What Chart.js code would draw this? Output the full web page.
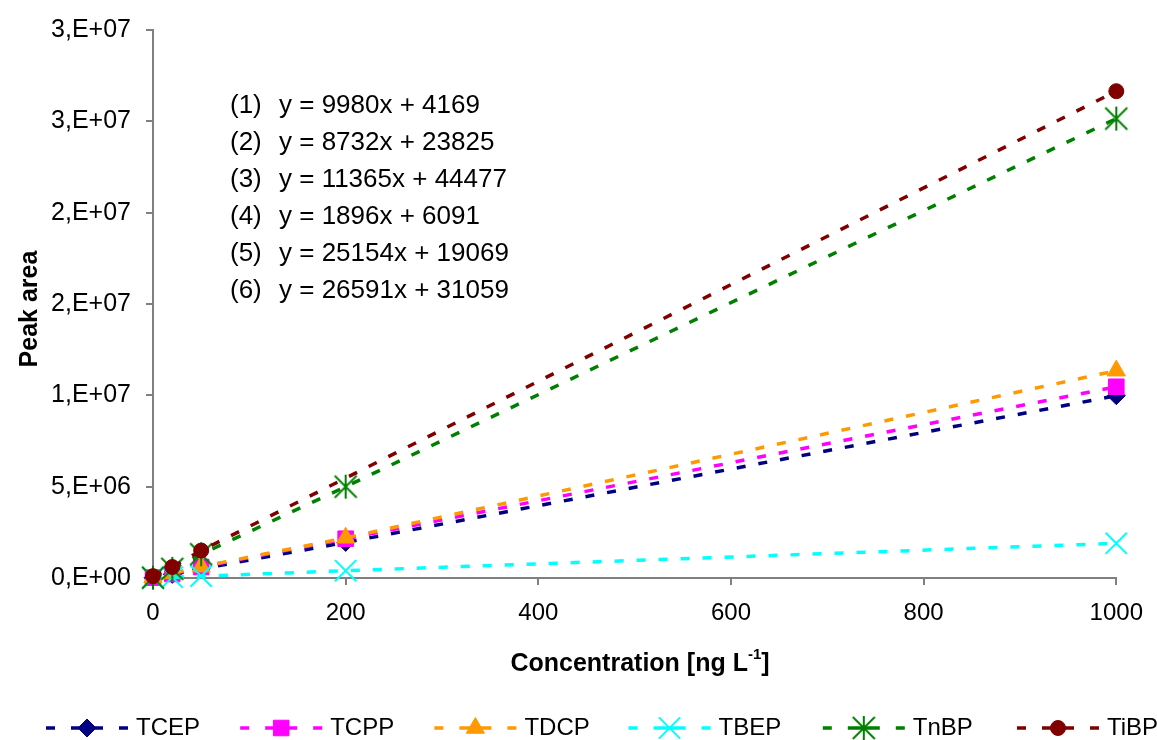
<!DOCTYPE html>
<html>
<head>
<meta charset="utf-8">
<script src="https://cdn.jsdelivr.net/npm/chart.js@4.4.0/dist/chart.umd.min.js"></script>
<style>
  html, body { margin: 0; padding: 0; background: #ffffff; }
  #wrap { width: 1157px; height: 740px; position: relative; }
</style>
</head>
<body>
<div id="wrap"><canvas id="calib" width="1157" height="740"></canvas></div>
<script>
// Calibration data: peak area versus concentration for six organophosphate esters
const concentrations = [0, 20, 50, 200, 1000];
const seriesNames = ['TCEP', 'TCPP', 'TDCP', 'TBEP', 'TnBP', 'TiBP'];
const tcepArea = [10000, 200000, 500000, 1950000, 9980000];
const tcppArea = [20000, 220000, 600000, 2150000, 10470000];
const tdcpArea = [40000, 250000, 620000, 2200000, 11350000];
const tbepArea = [5000, 40000, 100000, 400000, 1900000];
const tnbpArea = [20000, 500000, 1300000, 5000000, 25150000];
const tibpArea = [100000, 600000, 1500000, null, 26650000];
const seriesColors = ['#000080', '#FF00FF', '#FF9900', '#00FFFF', '#008000', '#800000'];
const xTickLabels = ['0', '200', '400', '600', '800', '1000'];
const yTickLabels = ['0,E+00', '5,E+06', '1,E+07', '2,E+07', '2,E+07', '3,E+07', '3,E+07'];
const equations = [
  'y = 9980x + 4169',
  'y = 8732x + 23825',
  'y = 11365x + 44477',
  'y = 1896x + 6091',
  'y = 25154x + 19069',
  'y = 26591x + 31059'
];

const FONT = "'Liberation Sans', Arial, Helvetica, sans-serif";

// Asterisk marker: vertical stroke plus two diagonals
function makeAsterisk(color) {
  const c = document.createElement('canvas');
  c.width = 26; c.height = 26;
  const g = c.getContext('2d');
  g.strokeStyle = color;
  g.lineWidth = 2;
  g.beginPath();
  g.moveTo(13, 1); g.lineTo(13, 25);
  g.moveTo(2, 2); g.lineTo(24, 24);
  g.moveTo(24, 2); g.lineTo(2, 24);
  g.stroke();
  return c;
}

const markerStyles = [
  { pointStyle: 'rectRot', radius: 9, borderWidth: 1 },
  { pointStyle: 'rect', radius: 11, borderWidth: 1 },
  { pointStyle: 'triangle', radius: 10.5, borderWidth: 1 },
  { pointStyle: 'crossRot', radius: 15, borderWidth: 2 },
  { pointStyle: makeAsterisk(seriesColors[4]), radius: 12, borderWidth: 2 },
  { pointStyle: 'circle', radius: 7.5, borderWidth: 1 }
];

const allAreas = [tcepArea, tcppArea, tdcpArea, tbepArea, tnbpArea, tibpArea];

const datasets = seriesNames.map((name, i) => ({
  label: name,
  data: concentrations.map((c, k) => ({ x: c, y: allAreas[i][k] })),
  borderColor: seriesColors[i],
  backgroundColor: seriesColors[i],
  borderWidth: 3.5,
  borderDash: [9, 13],
  borderCapStyle: 'butt',
  pointStyle: markerStyles[i].pointStyle,
  pointRadius: markerStyles[i].radius,
  pointHoverRadius: markerStyles[i].radius,
  pointBorderWidth: markerStyles[i].borderWidth,
  pointBorderColor: seriesColors[i],
  pointBackgroundColor: seriesColors[i],
  spanGaps: true,
  tension: 0,
  fill: false,
  clip: false,
  order: seriesNames.length - i
}));

// Equations, axis titles and legend drawn on top of the plot
const annotations = {
  id: 'annotations',
  afterDraw(chart) {
    const ctx = chart.ctx;
    ctx.save();

    // regression equations
    ctx.fillStyle = '#000';
    ctx.font = '26px ' + FONT;
    ctx.textBaseline = 'middle';
    ctx.textAlign = 'left';
    equations.forEach((eq, i) => {
      const y = 106 + i * 37;
      ctx.fillText('(' + (i + 1) + ')', 230, y);
      ctx.fillText(eq, 279, y);
    });

    // y axis title
    ctx.save();
    ctx.font = 'bold 25px ' + FONT;
    ctx.translate(30, 309);
    ctx.rotate(-Math.PI / 2);
    ctx.textAlign = 'center';
    ctx.textBaseline = 'middle';
    ctx.fillText('Peak area', 0, 0);
    ctx.restore();

    // x axis title with superscript
    const main = 'Concentration [ng L';
    const sup = '-1';
    const tail = ']';
    ctx.font = 'bold 25px ' + FONT;
    const wMain = ctx.measureText(main).width;
    const wTail = ctx.measureText(tail).width;
    ctx.font = 'bold 15px ' + FONT;
    const wSup = ctx.measureText(sup).width;
    const total = wMain + wSup + wTail;
    let x = 640 - total / 2;
    const yT = 664;
    ctx.textAlign = 'left';
    ctx.textBaseline = 'middle';
    ctx.font = 'bold 25px ' + FONT;
    ctx.fillText(main, x, yT);
    x += wMain;
    ctx.font = 'bold 15px ' + FONT;
    ctx.fillText(sup, x, yT - 9);
    x += wSup;
    ctx.font = 'bold 25px ' + FONT;
    ctx.fillText(tail, x, yT);

    // legend row
    const legendY = 728;
    const pitch = 194.2;
    const startX = 46;
    const boxW = 82;
    seriesNames.forEach((name, i) => {
      const bx = startX + i * pitch;
      ctx.strokeStyle = seriesColors[i];
      ctx.lineWidth = 3.5;
      ctx.setLineDash([]);
      ctx.beginPath();
      ctx.moveTo(bx, legendY); ctx.lineTo(bx + 9, legendY);
      ctx.moveTo(bx + 25, legendY); ctx.lineTo(bx + 57, legendY);
      ctx.moveTo(bx + 73, legendY); ctx.lineTo(bx + boxW, legendY);
      ctx.stroke();
      ctx.fillStyle = seriesColors[i];
      ctx.lineWidth = markerStyles[i].borderWidth;
      Chart.helpers.drawPoint(ctx, {
        pointStyle: markerStyles[i].pointStyle,
        radius: markerStyles[i].radius,
        borderWidth: markerStyles[i].borderWidth,
        rotation: 0
      }, bx + boxW / 2, legendY);
      ctx.fillStyle = '#000';
      ctx.font = '24px ' + FONT;
      ctx.textAlign = 'left';
      ctx.textBaseline = 'middle';
      ctx.fillText(name, bx + 90, legendY);
    });

    ctx.restore();
  }
};

new Chart(document.getElementById('calib'), {
  type: 'line',
  data: { datasets },
  options: {
    responsive: false,
    animation: false,
    devicePixelRatio: 1,
    layout: { padding: { top: 28, right: 40, bottom: 0, left: 0 } },
    plugins: { legend: { display: false }, tooltip: { enabled: false } },
    scales: {
      x: {
        type: 'linear',
        min: 0,
        max: 1000,
        ticks: {
          stepSize: 200,
          color: '#000',
          font: { family: FONT, size: 24 },
          padding: 14,
          maxRotation: 0,
          callback: (v, i) => xTickLabels[i]
        },
        grid: { drawOnChartArea: false, drawTicks: true, tickLength: 7, color: '#808080', lineWidth: 2 },
        border: { color: '#808080', width: 2 },
        afterFit(s) { s.height = 162; }
      },
      y: {
        type: 'linear',
        min: 0,
        max: 30000000,
        ticks: {
          stepSize: 5000000,
          color: '#000',
          font: { family: FONT, size: 25 },
          padding: 15,
          callback: (v, i) => yTickLabels[i]
        },
        grid: { drawOnChartArea: false, drawTicks: true, tickLength: 7, color: '#808080', lineWidth: 2 },
        border: { color: '#808080', width: 2 },
        afterFit(s) { s.width = 153; }
      }
    }
  },
  plugins: [annotations]
});
</script>
</body>
</html>
